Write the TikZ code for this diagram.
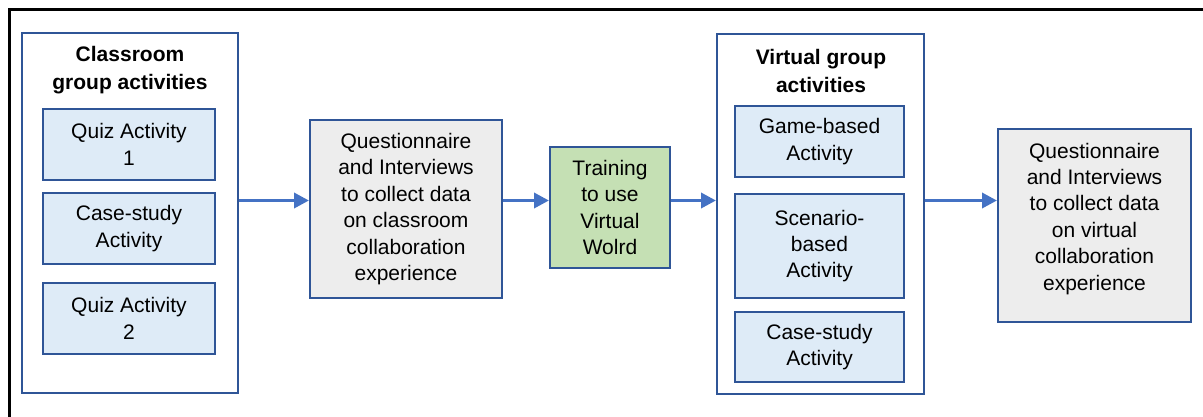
\documentclass[tikz,border=0pt]{standalone}
\usepackage{fontspec}
\setmainfont{Liberation Sans}
\usepackage[svgnames]{xcolor}
\usetikzlibrary{arrows.meta}

\definecolor{boxblue}{HTML}{2F5597}
\definecolor{flowblue}{HTML}{4472C4}
\definecolor{actblue}{HTML}{DEEBF7}
\definecolor{greyfill}{HTML}{EDEDED}
\definecolor{greenfill}{HTML}{C5E0B4}

\begin{document}
\begin{tikzpicture}[x=1pt,y=-1pt]
  \tikzset{BoxStyle/.style={draw=boxblue, line width=2pt, inner sep=0pt,
      align=center, font=\fontsize{21}{26.4}\selectfont},
    GroupStyle/.style={BoxStyle, fill=white},
    TitleStyle/.style={align=center, inner sep=0pt,
      font=\fontsize{21}{28}\selectfont\bfseries},
    ActStyle/.style={BoxStyle, fill=actblue},
    DataStyle/.style={BoxStyle, fill=greyfill},
    FlowStyle/.style={draw=flowblue, line width=3.5pt,
      -{Triangle[length=15pt,width=15pt]}}}
  \useasboundingbox (0,0) rectangle (1203,416);
  % frame
  \draw[line width=3pt] (9,420) -- (9,9) -- (1210,9);
  % classroom part
  \node[GroupStyle, minimum width=216pt, minimum height=360pt] (CG) at (130,213) {};
  \node[TitleStyle] (CGT) at (130,70) {Classroom\\group activities};
  \node[ActStyle, minimum width=172pt, minimum height=71pt] (Q1) at (129,144.5) {Quiz Activity\\1};
  \node[ActStyle, minimum width=172pt, minimum height=71pt] (Q2) at (129,228.5) {Case-study\\Activity};
  \node[ActStyle, minimum width=172pt, minimum height=71pt] (Q3) at (129,318.5) {Quiz Activity\\2};
  \node[DataStyle, minimum width=192pt, minimum height=178pt] (QC) at (406,209)
    {Questionnaire\\and Interviews\\to collect data\\on classroom\\collaboration\\experience};
  \node[BoxStyle, fill=greenfill, minimum width=120pt, minimum height=121pt] (TR) at (610,207.5)
    {Training\\to use\\Virtual\\Wolrd};
  % virtual part
  \node[GroupStyle, minimum width=207pt, minimum height=360pt] (VG) at (820.5,214) {};
  \node[TitleStyle] (VGT) at (821,71) {Virtual group\\activities};
  \node[ActStyle, minimum width=169pt, minimum height=71pt] (G1) at (819.5,141.5) {Game-based\\Activity};
  \node[ActStyle, minimum width=169pt, minimum height=104pt] (G2) at (819.5,246) {Scenario-\\based\\Activity};
  \node[ActStyle, minimum width=169pt, minimum height=70pt] (G3) at (819.5,347) {Case-study\\Activity};
  \node[DataStyle, minimum width=193pt, minimum height=193pt, text depth=18pt] (QV) at (1094.5,225.5)
    {Questionnaire\\and Interviews\\to collect data\\on virtual\\collaboration\\experience};
  % flow
  \coordinate (lvl) at (0,200.5);
  \draw[FlowStyle] (CG.east |- lvl) -- (QC.west |- lvl);
  \draw[FlowStyle] (QC.east |- lvl) -- (TR.west |- lvl);
  \draw[FlowStyle] (TR.east |- lvl) -- (VG.west |- lvl);
  \draw[FlowStyle] (VG.east |- lvl) -- (QV.west |- lvl);
\end{tikzpicture}
\end{document}
